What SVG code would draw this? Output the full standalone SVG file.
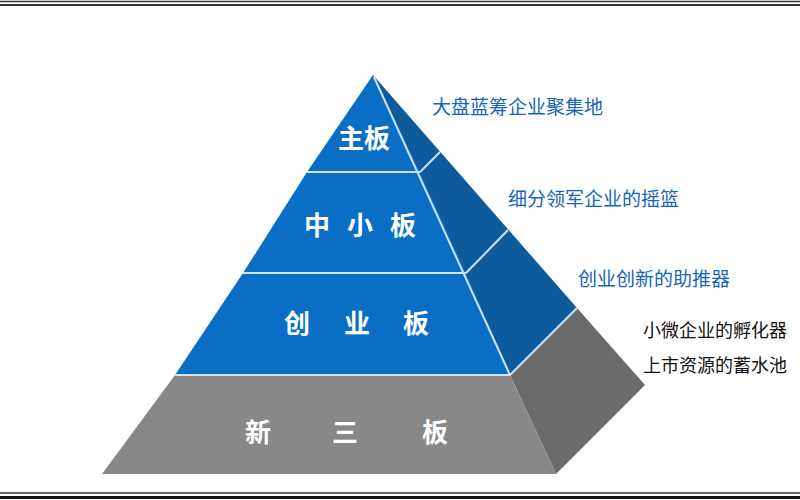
<svg xmlns="http://www.w3.org/2000/svg" width="800" height="500" viewBox="0 0 800 500">
<style>
.w{font-family:"Noto Sans CJK SC",sans-serif;fill:#fff;font-size:26px;text-anchor:middle;font-weight:bold}
.b{font-family:"Noto Sans CJK SC",sans-serif;fill:#1565b8;font-size:19px}
.k{font-family:"Noto Sans CJK SC",sans-serif;fill:#111;font-size:18px}
.sep{stroke:#cfe3f5;stroke-width:2}
</style>
<rect width="800" height="500" fill="#fff"/>
<line x1="0" y1="1.5" x2="800" y2="1.5" stroke="#333" stroke-width="1.5"/>
<line x1="0" y1="5" x2="800" y2="5" stroke="#333" stroke-width="2"/>
<line x1="0" y1="493" x2="800" y2="493" stroke="#333" stroke-width="1.5"/>
<line x1="0" y1="497.5" x2="800" y2="497.5" stroke="#111" stroke-width="3"/>
<g id="side">
<polygon points="373,75 577,308 510,375" fill="#0d5b9c"/>
<polygon points="577,308 645,385 556,474 510,375" fill="#6b6b6b"/>
</g>
<g id="xinsanban">
<polygon points="175,375 510,375 556,474 102,474" fill="#888888"/>
<text class="w" x="258" y="442">新</text><text class="w" x="345" y="442">三</text><text class="w" x="435" y="442">板</text>
</g>
<g id="chuangyeban">
<polygon points="243,273 466,273 510,375 175,375" fill="#0a6fc4"/>
<text class="w" x="297" y="333">创</text><text class="w" x="357" y="333">业</text><text class="w" x="416" y="333">板</text>
</g>
<g id="zhongxiaoban">
<polygon points="307,172 420,172 466,273 243,273" fill="#0a6fc4"/>
<text class="w" x="317" y="235">中</text><text class="w" x="360" y="235">小</text><text class="w" x="403" y="235">板</text>
</g>
<g id="zhuban">
<polygon points="373,75 420,172 307,172" fill="#0a6fc4"/>
<text class="w" x="364" y="148">主板</text>
</g>
<g id="connectors">
<line class="sep" x1="307" y1="172" x2="420" y2="172"/>
<line class="sep" x1="243" y1="273" x2="466" y2="273"/>
<line class="sep" x1="175" y1="375" x2="510" y2="375"/>
<line class="sep" x1="374" y1="77" x2="510" y2="375"/>
<line class="sep" x1="420" y1="172" x2="440" y2="152" stroke-width="1.5"/>
<line class="sep" x1="466" y1="273" x2="508" y2="230" stroke-width="1.5"/>
<line class="sep" x1="510" y1="375" x2="577" y2="308" stroke-width="1.5"/>
</g>
<g id="labels">
<text class="b" x="432" y="114">大盘蓝筹企业聚集地</text>
<text class="b" x="508" y="206">细分领军企业的摇篮</text>
<text class="b" x="578" y="286">创业创新的助推器</text>
<text class="k" x="643" y="337">小微企业的孵化器</text>
<text class="k" x="643" y="372">上市资源的蓄水池</text>
</g>
</svg>
